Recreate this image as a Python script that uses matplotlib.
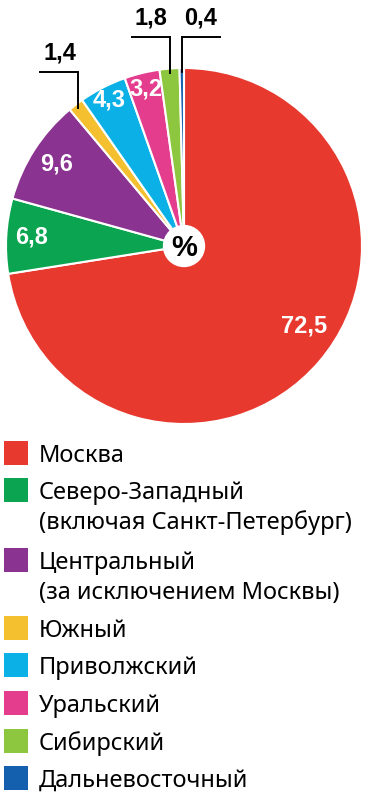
import numpy as np
import matplotlib
matplotlib.use("Agg")
import matplotlib.pyplot as plt
from matplotlib.patches import Rectangle, Circle

# data
regions = ["Москва", "Северо-Западный\n(включая Санкт-Петербург)",
           "Центральный\n(за исключением Москвы)", "Южный", "Приволжский",
           "Уральский", "Сибирский", "Дальневосточный"]
shares = [72.5, 6.8, 9.6, 1.4, 4.3, 3.2, 1.8, 0.4]
labels = ["72,5", "6,8", "9,6", "1,4", "4,3", "3,2", "1,8", "0,4"]
colors = ["#E8392F", "#0BA450", "#8A3390", "#F4C030", "#0AB0E6",
          "#E43D8D", "#8DC63F", "#1560AE"]

W, H = 369, 800
fig = plt.figure(figsize=(W / 100, H / 100), dpi=100)
fig.patch.set_facecolor("white")

# pie axes, square in pixels
cx, cy, R = 184, 246, 178
ax = fig.add_axes([(cx - R) / W, (H - cy - R) / H, 2 * R / W, 2 * R / H])

wedges, _ = ax.pie(shares, colors=colors, startangle=90, counterclock=False,
                   radius=1, wedgeprops=dict(edgecolor="white", linewidth=1.5))
ax.set_xlim(-1, 1)
ax.set_ylim(-1, 1)
ax.axis("off")
ax.add_patch(Circle((0, 0), 0.115, color="white", zorder=5))
ax.text(0, -0.01, "%", ha="center", va="center", fontsize=21, fontweight="bold",
        family="Liberation Sans", zorder=6)

# label placement: inside (radial factor) or outside (leader line)
inside_r = {0: 0.81, 1: 0.86, 2: 0.85, 4: 0.92, 5: 0.91}
outside = {3: (0.978, -1), 6: (1.174, -1), 7: (1.174, 1)}
seg = 38 / R

cum = np.cumsum([0] + shares)
for i, lab in enumerate(labels):
    mid = (cum[i] + cum[i + 1]) / 2 / 100
    ang = np.deg2rad(90 - 360 * mid)
    if i == 0:
        ang += np.deg2rad(7)
    if i in inside_r:
        r = inside_r[i]
        ax.text(r * np.cos(ang), r * np.sin(ang), lab, color="white",
                ha="center", va="center", fontsize=17, fontweight="bold",
                family="Liberation Sans", zorder=4)
    else:
        ytop, d = outside[i]
        x0 = 0.975 * np.cos(ang)
        y0 = 0.975 * np.sin(ang)
        ax.plot([x0, x0, x0 + d * seg], [y0, ytop, ytop], color="black",
                lw=1.4, clip_on=False, zorder=4, solid_joinstyle="miter")
        ax.text(x0 + d * seg / 2, ytop + 0.04, lab, color="black",
                ha="center", va="bottom", fontsize=17, fontweight="bold",
                family="Liberation Sans", zorder=4)

# legend drawn in pixel coordinates
def fx(px):
    return px / W

def fy(py):
    return 1 - py / H

row_y = [453, 490, 560, 628, 665, 703, 741, 778]
line_gap = 30
sq = 24
for name, col, yy in zip(regions, colors, row_y):
    fig.patches.append(Rectangle((fx(4), fy(yy + sq / 2)), sq / W, sq / H,
                                 transform=fig.transFigure, facecolor=col,
                                 edgecolor="none"))
    for k, part in enumerate(name.split("\n")):
        fig.text(fx(39), fy(yy + k * line_gap), part, ha="left",
                 va="center_baseline", fontsize=17, family="Noto Sans")

fig.savefig("out.png", dpi=100)
